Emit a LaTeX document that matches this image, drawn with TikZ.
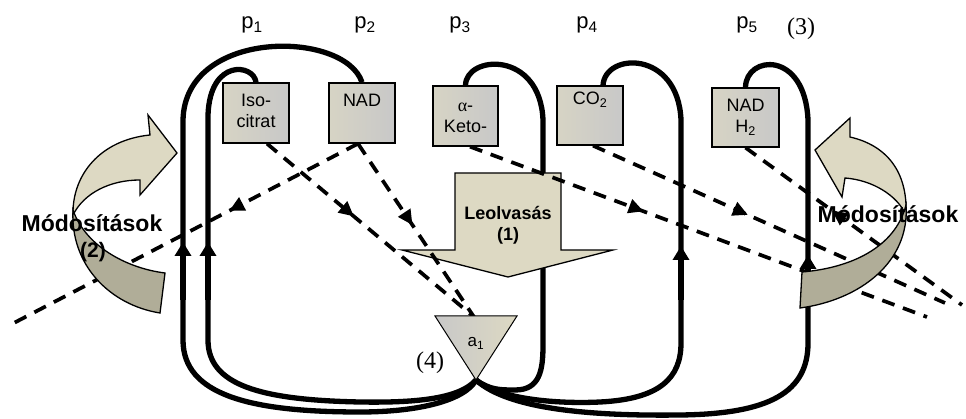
\documentclass[tikz,border=0pt]{standalone}
\usepackage{fontspec}
\setmainfont{Liberation Sans}
\newfontfamily\serifface{Liberation Serif}
\usetikzlibrary{arrows.meta,decorations.markings,calc}
\definecolor{beige}{RGB}{221,217,195}
\definecolor{darkbeige}{RGB}{176,173,152}
\definecolor{boxgray}{RGB}{200,200,200}
\begin{document}
\begin{tikzpicture}[x=1pt,y=-1pt,
  loopline/.style={line width=5.3pt},
  looparrow/.style={line width=5.3pt,-{Triangle[length=14pt,width=16pt]}},
  dashline/.style={line width=3.7pt, dash pattern=on 13pt off 9pt},
  midarrow/.style={postaction={decorate}, decoration={markings, mark=at position #1 with {\arrow{Triangle[length=15pt,width=14pt]}}}},
  revarrow/.style={postaction={decorate}, decoration={markings, mark=at position #1 with {\arrowreversed{Triangle[length=15pt,width=14pt]}}}},
  pbox/.style={draw, line width=1.3pt, minimum width=66pt, minimum height=60pt, inner sep=0pt, left color=beige!70!boxgray, right color=boxgray},
  boxtext/.style={anchor=base, inner sep=0pt, font=\fontsize{18}{20}\selectfont},
  plabel/.style={anchor=base, inner sep=0pt, font=\fontsize{22}{26}\selectfont},
  serlabel/.style={anchor=base, inner sep=0pt, font=\serifface\fontsize{24}{28}\selectfont},
  bigtext/.style={anchor=base, inner sep=0pt, font=\bfseries\fontsize{23}{26}\selectfont},
  shape3d/.style={draw, line width=1.3pt}
]
\useasboundingbox (0,0) rectangle (966,419);

% boxes
\node[pbox] (iso) at (256,113) {};
\node[pbox] (nad) at (362,113) {};
\node[pbox, minimum width=65pt] (keto) at (465.5,116) {};
\node[pbox, minimum height=59pt] (co2) at (590,115.5) {};
\node[pbox, minimum width=67pt, minimum height=59pt] (nadh) at (745.5,117.5) {};

\coordinate (tip) at (476,380);
\coordinate (tritop) at (474,317);

% loops
\draw[loopline] (tip) .. controls (460,398) and (420,403) .. (360,402) .. controls (260,400) and (208,385) .. (208,340) -- (208,115) .. controls (210,58) and (254,64) .. (iso.north);
\draw[loopline] (tip) .. controls (465,400) and (420,412) .. (360,412) .. controls (250,412) and (183,395) .. (183,340) -- (183,120) .. controls (185,28) and (345,30) .. (nad.north);
\draw[loopline] (tip) .. controls (490,390) and (500,390) .. (515,390) .. controls (540,390) and (543,370) .. (543,345) -- (543,120) .. controls (540,50) and (466,55) .. (keto.north);
\draw[loopline] (tip) .. controls (500,400) and (560,404) .. (600,402) .. controls (660,399) and (681,378) .. (681,343) -- (681,120) .. controls (678,50) and (605,52) .. ($(co2.north)+(13,0)$);
\draw[loopline] (tip) .. controls (510,411) and (600,416) .. (680,415) .. controls (770,414) and (808,392) .. (808,343) -- (808,120) .. controls (805,50) and (746,55) .. (nadh.north);

\draw[looparrow] (183,300) -- (183,242);
\draw[looparrow] (208,300) -- (208,242);
\draw[looparrow] (681,300) -- (681,246);
\draw[looparrow] (808,300) -- (808,255);

% Leolvasas arrow
\path[fill=beige, shape3d] (455,173) -- (561,173) -- (561,250) -- (613,250) -- (508,277) -- (402,250) -- (455,250) -- cycle;

% dashed lines
\coordinate (farleft) at (10,325);
\coordinate (enda) at (962,305);
\coordinate (endb) at (945,303);
\coordinate (endc) at (927,317);
\draw[dashline, midarrow=0.37] ($(nad.south)+(-4,0)$) -- (farleft);
\draw[dashline, midarrow=0.42] ($(iso.south)+(11,0)$) -- (tritop);
\draw[dashline, midarrow=0.47] ($(nad.south)+(-4,0)$) -- (tritop);
\draw[dashline, midarrow=0.38] ($(keto.south)+(4.5,0)$) -- (endc);
\draw[dashline, midarrow=0.44] ($(co2.south)+(3,0)$) -- (endb);
\draw[dashline, revarrow=0.40] (nadh.south) -- (enda);

% triangle a1
\path[left color=boxgray, right color=beige, draw, line width=1pt] (435,316) -- (517,316) -- (tip) -- cycle;
\node[anchor=base, inner sep=0pt, font=\fontsize{17}{20}\selectfont] (a1) at (476,347) {a\textsubscript{1}};

% left ribbon arrow
\path[fill=beige, shape3d] (150,135) -- (148,115) -- (177,153) -- (140,195) -- (140,180) .. controls (110,180) and (84,193) .. (73,215) .. controls (72,175) and (100,140) .. (150,135) -- cycle;
\path[fill=darkbeige, shape3d] (73,210) .. controls (70,265) and (110,305) .. (160,313) -- (165,273) .. controls (125,268) and (85,245) .. (73,210) -- cycle;

% right ribbon arrow
\path[fill=beige, shape3d] (850,137) -- (850,118) -- (815,150) -- (842,197) -- (845,178) .. controls (872,180) and (897,195) .. (906,215) .. controls (908,170) and (885,145) .. (850,137) -- cycle;
\path[fill=darkbeige, shape3d] (906,205) .. controls (910,262) and (860,300) .. (800,308) -- (802,272) .. controls (850,268) and (895,248) .. (906,205) -- cycle;

% box texts
\node[boxtext] (isot1) at (256,107) {Iso-};
\node[boxtext] (isot2) at (256,128) {citrat};
\node[boxtext] (nadt) at (362,107) {NAD};
\node[boxtext] (ketot1) at (465.5,112) {{\serifface α}-};
\node[boxtext] (ketot2) at (465.5,133) {Keto-};
\node[boxtext] (co2t) at (590,105) {CO\textsubscript{2}};
\node[boxtext] (nadht1) at (745.5,112) {NAD};
\node[boxtext] (nadht2) at (745.5,133) {H\textsubscript{2}};

% labels
\node[plabel] (p1) at (252,29) {p\textsubscript{1}};
\node[plabel] (p2) at (365,29) {p\textsubscript{2}};
\node[plabel] (p3) at (460,29) {p\textsubscript{3}};
\node[plabel] (p4) at (587,29) {p\textsubscript{4}};
\node[plabel] (p5) at (747,29) {p\textsubscript{5}};
\node[serlabel] (three) at (801,35) {(3)};
\node[serlabel] (four) at (430,368) {(4)};

\node[anchor=base, inner sep=0pt, font=\bfseries\fontsize{18}{20}\selectfont] (leo) at (508,220) {Leolvasás};
\node[anchor=base, inner sep=0pt, font=\bfseries\fontsize{18}{20}\selectfont] (one) at (508,241) {(1)};
\node[bigtext] (modl) at (92,232) {Módosítások};
\node[anchor=base, inner sep=0pt, font=\bfseries\fontsize{21}{24}\selectfont] (two) at (93,258) {(2)};
\node[bigtext] (modr) at (888,223) {Módosítások};
\end{tikzpicture}
\end{document}
